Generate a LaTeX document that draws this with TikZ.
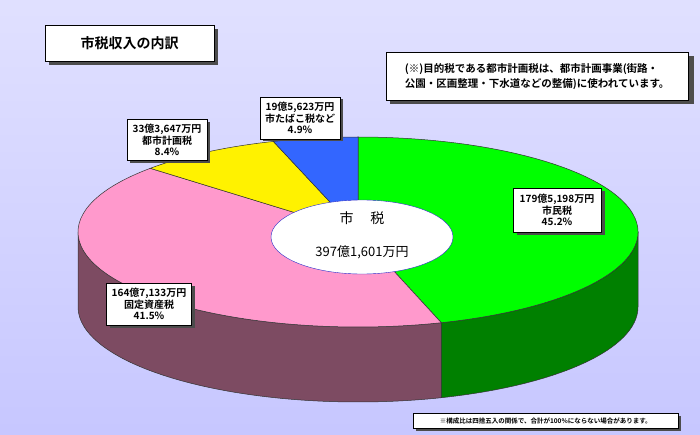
\documentclass[tikz,border=0pt]{standalone}
\usepackage{fontspec}
\usetikzlibrary{shapes.geometric}
\setmainfont{Noto Sans CJK JP}
\newfontfamily\jpb{Noto Sans CJK JP Bold}
\begin{document}
\begin{tikzpicture}[x=1pt,y=1pt,
  lbl/.style={draw=black,fill=white,align=center,font=\jpb\fontsize{10}{11.5}\selectfont,inner sep=1pt},
  shad/.style={fill=black!70},
  slice/.style={draw=black!80,line width=0.5pt},
  el/.style={x radius=280pt,y radius=95pt}]
\fill[top color=white!88!blue,bottom color=white!78!blue] (0,0) rectangle (700,434);
\useasboundingbox (0,0) rectangle (700,434);
\coordinate (c) at (358,202);
% sides
\draw[slice,fill={rgb,255:red,125;green,75;blue,98}] (c) ++(180:280pt and 95pt) arc[start angle=180,end angle=287.3,el] -- ++(0,-75) arc[start angle=287.3,end angle=180,el] -- cycle;
\draw[slice,fill={rgb,255:red,0;green,128;blue,0}] (c) ++(287.3:280pt and 95pt) arc[start angle=287.3,end angle=360,el] -- ++(0,-75) arc[start angle=360,end angle=287.3,el] -- cycle;
% top
\draw[slice,fill={rgb,255:red,0;green,255;blue,0}] (c) -- ++(-72.7:280pt and 95pt) arc[start angle=-72.7,end angle=90,el] -- cycle;
\draw[slice,fill={rgb,255:red,255;green,153;blue,204}] (c) -- ++(137.9:280pt and 95pt) arc[start angle=137.9,end angle=287.3,el] -- cycle;
\draw[slice,fill=yellow] (c) -- ++(107.6:280pt and 95pt) arc[start angle=107.6,end angle=137.9,el] -- cycle;
\draw[slice,fill={rgb,255:red,51;green,102;blue,255}] (c) -- ++(90:280pt and 95pt) arc[start angle=90,end angle=107.6,el] -- cycle;
% center ellipse
\node[draw={rgb,255:red,40;green,40;blue,200},fill=white,ellipse,minimum width=182pt,minimum height=74pt,inner sep=0pt] (ctr) at (362,197) {};
\node[font=\fontsize{14}{16}\selectfont] (ctrt) at (362,216) {市\hspace{1.2em}税};
\node[font=\fontsize{13}{15}\selectfont] (ctrv) at (362,182) {397億1,601万円};
% labels with shadows
\fill[shad] (517,199) rectangle (605,243);
\node[lbl,minimum width=88pt,minimum height=44pt] (l1) at (557,224) {179億5,198万円\\市民税\\45.2\%};
\fill[shad] (110,106) rectangle (195,148);
\node[lbl,minimum width=85pt,minimum height=42pt] (l2) at (149,130) {164億7,133万円\\固定資産税\\41.5\%};
\fill[shad] (130,271) rectangle (210,312);
\node[lbl,minimum width=80pt,minimum height=41pt] (l3) at (167,294) {33億3,647万円\\都市計画税\\8.4\%};
\fill[shad] (263,293) rectangle (343,335);
\node[lbl,minimum width=80pt,minimum height=42pt] (l4) at (300,316) {19億5,623万円\\市たばこ税など\\4.9\%};
% title
\fill[shad] (49,369) rectangle (218,405);
\node[draw=black,fill=white,minimum width=169pt,minimum height=36pt,font=\jpb\fontsize{14}{16}\selectfont,anchor=north west] (title) at (45,409) {市税収入の内訳\hspace{4.5em}};
% note
\fill[shad] (390,330) rectangle (694,378);
\node[draw=black,fill=white,minimum width=302pt,minimum height=48pt,inner sep=2pt,anchor=north west,align=left,font=\jpb\fontsize{10.5}{15}\selectfont] (note) at (386,382) {(※)目的税である都市計画税は、都市計画事業(街路・\\公園・区画整理・下水道などの整備)に使われています。};
% footnote
\fill[shad] (416,3) rectangle (681,18);
\node[draw=black,fill=white,minimum width=265pt,minimum height=15pt,inner sep=0pt,anchor=north west,font=\jpb\fontsize{6.5}{7}\selectfont] (foot) at (413,21) {※構成比は四捨五入の関係で、合計が100\%にならない場合があります。};
\end{tikzpicture}
\end{document}
